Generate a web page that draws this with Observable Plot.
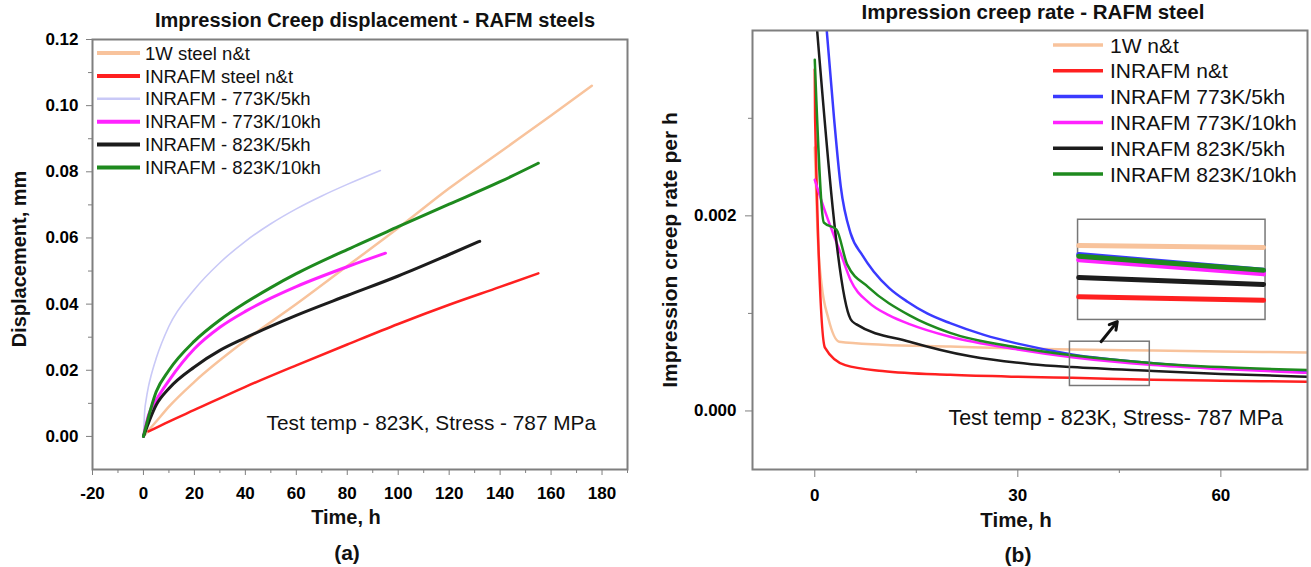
<!DOCTYPE html>
<html><head><meta charset="utf-8">
<script src="https://cdn.jsdelivr.net/npm/d3@7"></script>
<script src="https://cdn.jsdelivr.net/npm/@observablehq/plot@0.6"></script>
<style>
body{margin:0;background:#fff;}
#wrap{position:relative;width:1311px;height:567px;overflow:hidden;background:#fff;}
#wrap svg{position:absolute;top:0;}
</style>
</head><body><div id="wrap"></div>
<script>
// ---------- Panel (a): displacement vs time ----------
const namesA = ["1W steel n&t","INRAFM steel n&t","INRAFM - 773K/5kh","INRAFM - 773K/10kh","INRAFM - 823K/5kh","INRAFM - 823K/10kh"];
const colorsA = ["#f8c39c","#ff2020","#c9c9f7","#ff22ff","#1c1c1c","#1e8a1e"];
const tA_1W  = [0,5,10,20,40,60,80,100,120,140,160,176];
const dA_1W  = [0,0.0045,0.009,0.0165,0.029,0.040,0.0515,0.063,0.075,0.086,0.097,0.106];
const tA_NT  = [2,10,20,40,60,80,100,120,140,155];
const dA_NT  = [0.0015,0.0045,0.0080,0.0150,0.0215,0.0278,0.034,0.0398,0.0452,0.0493];
const tA_7735 = [0,0.5,1,2,3,5,10,20,30,40,50,60,70,80,93];
const dA_7735 = [0,0.0078,0.0108,0.0152,0.0184,0.0236,0.0333,0.0444,0.0525,0.0590,0.0643,0.0688,0.0727,0.0762,0.0804];
const tA_77310 = [0,2,5,10,20,30,40,50,60,80,95];
const dA_77310 = [0,0.0065,0.011,0.0169,0.0265,0.033,0.0378,0.0418,0.0453,0.0513,0.0554];
const tA_8235 = [0,5,10,20,30,40,60,80,100,120,132];
const dA_8235 = [0,0.0095,0.0145,0.021,0.026,0.0298,0.0366,0.0426,0.0485,0.0550,0.059];
const tA_82310 = [0,5,10,20,30,40,50,60,80,100,120,140,155];
const dA_82310 = [0,0.0135,0.020,0.0288,0.0352,0.0404,0.0450,0.0492,0.0565,0.0634,0.0702,0.0770,0.0826];
const xTicksA = [-20,0,20,40,60,80,100,120,140,160,180];
const yTicksA = [0,0.02,0.04,0.06,0.08,0.10,0.12];

// ---------- Panel (b): creep rate vs time ----------
const namesB = ["1W n&t","INRAFM n&t","INRAFM 773K/5kh","INRAFM 773K/10kh","INRAFM 823K/5kh","INRAFM 823K/10kh"];
const colorsB = ["#f8c39c","#ff2020","#3a3aff","#ff22ff","#1c1c1c","#1e8a1e"];
const tB_1W  = [0,0.5,1,2,3.6,10,20,30,38,50,60,73];
const rB_1W  = [0.0027,0.0017,0.0013,0.00095,0.00071,0.00068,0.00066,0.00064,0.00063,0.00062,0.00061,0.0006];
const tB_NT  = [0,0.05,1.5,4.5,10,20,30,38,50,60,73];
const rB_NT  = [0.0035,0.003,0.00065,0.00047,0.00041,0.00037,0.00035,0.00034,0.00032,0.00031,0.0003];
const tB_7735 = [1.2,1.77,2.85,3.84,5.3,7,8.7,11,13.7,16.6,20,25,30,38,50,60,73];
const rB_7735 = [0.0044,0.0039,0.003,0.0023,0.00182,0.0016,0.00143,0.00126,0.00112,0.001,0.0009,0.00078,0.00069,0.00058,0.00049,0.00044,0.0004];
const tB_77310 = [0,1.6,3.8,5.3,8,11,14,20,30,38,50,60,73];
const rB_77310 = [0.00237,0.00203,0.00162,0.00134,0.00111,0.00098,0.00089,0.00076,0.00063,0.00055,0.00047,0.00043,0.00039];
const tB_8235 = [0,5.3,6.1,14,23,32,38,50,60,73];
const rB_8235 = [0.0042,0.00094,0.00089,0.00071,0.00056,0.00048,0.00045,0.00041,0.00038,0.00035];
const tB_82310 = [0,1.35,3.2,4.8,7.9,14,20,30,38,50,60,73];
const rB_82310 = [0.0036,0.00193,0.00186,0.0015,0.00127,0.00098,0.0008,0.00065,0.00057,0.00049,0.00045,0.00042];
const xTicksB = [0,30,60];
const yTicksB = [0,0.002];

const rows = (t, v) => t.map((x, i) => ({t: x, v: v[i]}));
const serA = [[tA_1W,dA_1W],[tA_NT,dA_NT],[tA_7735,dA_7735],[tA_77310,dA_77310],[tA_8235,dA_8235],[tA_82310,dA_82310]]
  .map(([t,v],i)=>({name:namesA[i], color:colorsA[i], data:rows(t,v)}));
const serB = [[tB_1W,rB_1W],[tB_NT,rB_NT],[tB_7735,rB_7735],[tB_77310,rB_77310],[tB_8235,rB_8235],[tB_82310,rB_82310]]
  .map(([t,v],i)=>({name:namesB[i], color:colorsB[i], data:rows(t,v)}));
const widthA = [2.5,2.5,1.6,3,3,3];
const widthB = [2.5,2.5,2.5,2.5,2.5,2.5];

const FONT = "'Liberation Sans', Arial, sans-serif";
const GRAY = "#7f7f7f";

const plotA = Plot.plot({
  width: 655, height: 567,
  marginLeft: 92, marginRight: 28, marginTop: 39, marginBottom: 98,
  style: {fontFamily: FONT, background: "transparent", overflow: "visible"},
  x: {domain: [-20, 190], axis: null},
  y: {domain: [-0.01, 0.12], axis: null},
  marks: [
    ...serA.map((s,i)=>Plot.line(s.data, {x:"t", y:"v", stroke:s.color, strokeWidth:widthA[i], curve:"monotone-x"})),
    Plot.frame({stroke: GRAY, strokeWidth: 2}),
    Plot.axisX(xTicksA, {anchor:"bottom", tickSize:6, tickPadding:11, stroke:GRAY, fill:"black", fontSize:17, fontWeight:"bold", label:null, tickFormat:d=>String(d)}),
    Plot.axisX(d3.range(-10,191,20), {anchor:"bottom", tickSize:4, stroke:GRAY, label:null, tickFormat:()=>""}),
    Plot.axisY(yTicksA, {anchor:"left", tickSize:6, tickPadding:8, stroke:GRAY, fill:"black", fontSize:17, fontWeight:"bold", label:null, tickFormat:d3.format(".2f")}),
    Plot.axisY(d3.range(0.01,0.12,0.02), {anchor:"left", tickSize:4, stroke:GRAY, label:null, tickFormat:()=>""})
  ]
});

// inset (magnified view of the boxed region of panel b), derived from the series
const winT = [38, 50];
const insetT = t => 39 + (t - winT[0]) * 2.275;
const insetR = r => 0.00117 + 1.81 * (r - 0.00034);
const insetOrder = [0,2,3,5,4,1];

const plotB = Plot.plot({
  width: 661, height: 567,
  marginLeft: 102, marginRight: 4, marginTop: 30, marginBottom: 98,
  style: {fontFamily: FONT, background: "transparent", overflow: "visible"},
  x: {domain: [-9.2, 72.8], axis: null},
  y: {domain: [-0.0006, 0.0039], axis: null},
  marks: [
    ...serB.map((s,i)=>Plot.line(s.data, {x:"t", y:"v", stroke:s.color, strokeWidth:widthB[i], curve:"monotone-x", clip:true})),
    Plot.rect([{x1:37.7,x2:49.5,y1:0.000256,y2:0.00071}], {x1:"x1",x2:"x2",y1:"y1",y2:"y2", fill:"none", stroke:"#777", strokeWidth:1.5}),
    Plot.rect([{x1:38.9,x2:66.6,y1:0.000933,y2:0.00196}], {x1:"x1",x2:"x2",y1:"y1",y2:"y2", fill:"white", stroke:"#777", strokeWidth:1.5}),
    ...insetOrder.map(i=>Plot.line(serB[i].data.filter(d=>d.t>=winT[0] && d.t<=winT[1]).map(d=>({t:insetT(d.t), v:insetR(d.v)})),
        {x:"t", y:"v", stroke:serB[i].color, strokeWidth:5})),
    Plot.arrow([{x1:42.3,y1:0.00071,x2:44.7,y2:0.000916}], {x1:"x1",y1:"y1",x2:"x2",y2:"y2", stroke:"#111", strokeWidth:3, headLength:9}),
    Plot.frame({stroke: GRAY, strokeWidth: 2}),
    Plot.axisX(xTicksB, {anchor:"bottom", tickSize:8, tickPadding:11, stroke:GRAY, fill:"black", fontSize:17, fontWeight:"bold", label:null, tickFormat:d=>String(d)}),
    Plot.axisX([15,45], {anchor:"bottom", tickSize:4, stroke:GRAY, label:null, tickFormat:()=>""}),
    Plot.axisY(yTicksB, {anchor:"left", tickSize:7, tickPadding:9, stroke:GRAY, fill:"black", fontSize:17, fontWeight:"bold", label:null, tickFormat:d3.format(".3f")}),
    Plot.axisY([0.001,0.003], {anchor:"left", tickSize:4, stroke:GRAY, label:null, tickFormat:()=>""})
  ]
});

const wrap = document.getElementById("wrap");
plotA.style.left = "0px";
plotB.style.left = "650px";
wrap.appendChild(plotA);
wrap.appendChild(plotB);

function txt(svg, x, y, s, opt={}) {
  const t = d3.select(svg).append("text")
    .attr("x", x).attr("y", y).text(s)
    .attr("font-family", FONT)
    .attr("font-size", opt.size || 16)
    .attr("font-weight", opt.bold ? "bold" : "normal")
    .attr("text-anchor", opt.anchor || "start")
    .attr("fill", "#111");
  if (opt.rotate) t.attr("transform", `rotate(-90 ${x} ${y})`);
  if (opt.dy) t.attr("dy", opt.dy);
  return t;
}

// panel (a) texts
txt(plotA, 375, 27, "Impression Creep displacement - RAFM steels", {size:20, bold:true, anchor:"middle"});
txt(plotA, 26, 259, "Displacement, mm", {size:20, bold:true, anchor:"middle", rotate:true});
txt(plotA, 346, 524, "Time, h", {size:20, bold:true, anchor:"middle"});
txt(plotA, 347, 560, "(a)", {size:21, bold:true, anchor:"middle"});
txt(plotA, 596, 430, "Test temp - 823K, Stress - 787 MPa", {size:20.8, anchor:"end"});
serA.forEach((s,i)=>{
  const y = 53 + 22.9*i;
  d3.select(plotA).append("line").attr("x1",97).attr("x2",140).attr("y1",y).attr("y2",y)
    .attr("stroke",s.color).attr("stroke-width", i===2 ? 2.5 : 4);
  txt(plotA, 145, y, s.name, {size:18.5, dy:"0.36em"});
});

// panel (b) texts (local x = page x - 650)
txt(plotB, 1033-650, 19, "Impression creep rate - RAFM steel", {size:20.5, bold:true, anchor:"middle"});
txt(plotB, 677-650, 250, "Impression creep rate per h", {size:21, bold:true, anchor:"middle", rotate:true});
txt(plotB, 1016-650, 527, "Time, h", {size:20.5, bold:true, anchor:"middle"});
txt(plotB, 1018-650, 562, "(b)", {size:21, bold:true, anchor:"middle"});
txt(plotB, 1283-650, 425, "Test temp - 823K, Stress- 787 MPa", {size:21.5, anchor:"end"});
serB.forEach((s,i)=>{
  const y = 45 + 25.8*i;
  d3.select(plotB).append("line").attr("x1",1053-650).attr("x2",1103-650).attr("y1",y).attr("y2",y)
    .attr("stroke",s.color).attr("stroke-width",3.5);
  txt(plotB, 1110-650, y, s.name, {size:21, dy:"0.36em"});
});
</script>
</body></html>
